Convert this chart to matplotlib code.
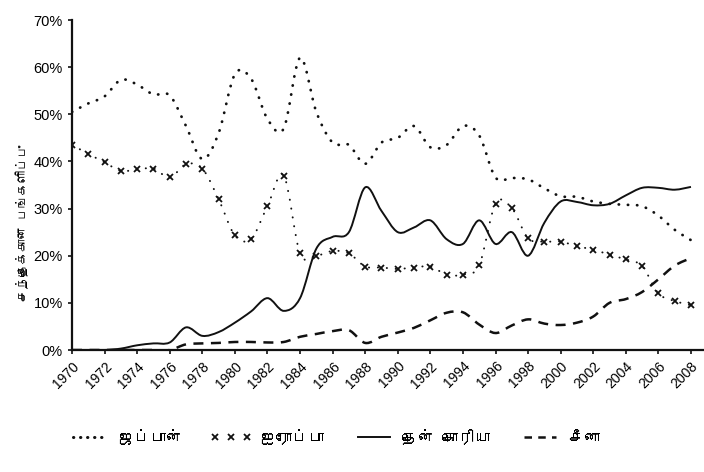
import numpy as np
import matplotlib
matplotlib.use("Agg")
import matplotlib.pyplot as plt
import matplotlib.font_manager as fm
from matplotlib.ft2font import FT2Font
from matplotlib.path import Path
from matplotlib.patches import PathPatch
from matplotlib.lines import Line2D

years = list(range(1970, 2009))

# share of market, percent
japan = [50.5, 52.3, 53.8, 57.3, 56.3, 54.2, 54.0, 47.5, 40.5, 46.0,
         58.5, 57.5, 49.0, 47.0, 62.0, 50.5, 44.0, 43.5, 39.5, 44.0,
         45.0, 47.5, 43.0, 43.5, 47.5, 45.5, 36.6, 36.5, 36.2, 34.3,
         32.6, 32.5, 31.5, 31.0, 30.8, 30.5, 28.5, 25.5, 23.3]
europe = [43.5, 41.6, 39.8, 38.0, 38.3, 38.5, 36.6, 39.4, 38.5, 32.0,
          24.3, 23.6, 30.5, 37.0, 20.5, 20.0, 21.0, 20.5, 17.7, 17.5,
          17.2, 17.5, 17.7, 16.0, 16.0, 18.0, 31.0, 30.1, 23.7, 23.0,
          23.0, 22.0, 21.3, 20.2, 19.2, 17.8, 12.0, 10.4, 9.5]
korea = [0, 0, 0, 0.3, 1.0, 1.4, 1.6, 4.8, 3.0, 3.8,
         5.8, 8.2, 11.0, 8.3, 11.0, 21.5, 24.0, 25.0, 34.5, 29.5,
         25.0, 26.0, 27.5, 23.5, 22.5, 27.5, 22.5, 25.0, 20.0, 27.0,
         31.5, 31.4, 30.7, 31.0, 32.8, 34.4, 34.4, 34.0, 34.6]
china = [0, 0, 0, 0, 0, 0, 0, 1.2, 1.4, 1.5,
         1.7, 1.7, 1.6, 1.7, 2.8, 3.4, 4.0, 4.2, 1.5, 2.8,
         3.7, 4.7, 6.3, 7.9, 8.0, 5.4, 3.6, 5.2, 6.5, 5.6,
         5.3, 5.8, 7.1, 10.0, 10.8, 12.3, 15.0, 17.9, 19.5]

names = ['ஜப்பான்', 'ஐரோப்பா', 'தென் கொரியா', 'சீனா']
ylabel = 'சந்தைக்கான பங்களிப்பு'
yticks = [0, 10, 20, 30, 40, 50, 60, 70]
xticks = list(range(1970, 2009, 2))

# look for an installed font that has Tamil letters
tamil_font = None
for f in fm.fontManager.ttflist:
    try:
        if 0x0BAA in FT2Font(f.fname).get_charmap():
            tamil_font = f.name
            break
    except Exception:
        pass
fams = ['Liberation Sans', 'DejaVu Sans']
if tamil_font:
    fams = [tamil_font] + fams
plt.rcParams['font.family'] = ['Liberation Sans', 'DejaVu Sans']


def smooth_path(xs, ys):
    # smooth curve through the points (like a spreadsheet "smoothed line")
    pts = np.column_stack([xs, ys]).astype(float)
    n = len(pts)
    verts = [pts[0]]
    codes = [Path.MOVETO]
    for i in range(n - 1):
        p0 = pts[max(i - 1, 0)]
        p1 = pts[i]
        p2 = pts[i + 1]
        p3 = pts[min(i + 2, n - 1)]
        verts += [p1 + (p2 - p0) / 6, p2 - (p3 - p1) / 6, p2]
        codes += [Path.CURVE4] * 3
    return Path(verts, codes)


fig = plt.figure(figsize=(7.04, 4.72), dpi=100)
ax = fig.add_axes([72 / 704, 1 - 350 / 472, 1 - 72 / 704, 330 / 472])

jap_style = (0, (0.1, 3.2))
eur_style = (0, (0.1, 4.5))
chn_style = (0, (4, 3))

p = PathPatch(smooth_path(years, japan), fill=False, ec='#111111', lw=2.0, ls=jap_style)
p.set_capstyle('round')
ax.add_patch(p)
p = PathPatch(smooth_path(years, europe), fill=False, ec='#111111', lw=1.4, ls=eur_style)
p.set_capstyle('round')
ax.add_patch(p)
ax.plot(years, europe, ls='none', marker='x', ms=4.5, mew=1.3, color='#111111')
ax.add_patch(PathPatch(smooth_path(years, korea), fill=False, ec='#111111', lw=1.4))
ax.add_patch(PathPatch(smooth_path(years, china), fill=False, ec='#111111', lw=1.8, ls=chn_style))

ax.set_xlim(1970, 2008.8)
ax.set_ylim(0, 70)
ax.set_yticks(yticks)
ax.set_yticklabels(['%d%%' % v for v in yticks], fontsize=10.5)
ax.set_xticks(xticks)
ax.set_xticklabels([str(v) for v in xticks], rotation=45, ha='right',
                   rotation_mode='anchor', fontsize=10)
ax.tick_params(axis='both', direction='out', length=3, width=1.2, color='#111111')
for s in ['top', 'right']:
    ax.spines[s].set_visible(False)
for s in ['left', 'bottom']:
    ax.spines[s].set_linewidth(1.6)
    ax.spines[s].set_color('#111111')

fig.text(22 / 704, 1 - 223 / 472, ylabel, rotation=90, ha='center', va='center',
         fontsize=9, fontweight='bold', family=fams)

handles = [
    Line2D([], [], color='#111111', lw=2.2, ls=(0, (0.1, 2.2)), dash_capstyle='round'),
    Line2D([], [], color='#111111', ls='none', marker='x', ms=5, mew=1.3),
    Line2D([], [], color='#111111', lw=1.4),
    Line2D([], [], color='#111111', lw=1.8, ls=(0, (3, 2.5))),
]
fig.legend(handles, names, loc='center', bbox_to_anchor=(0.475, 1 - 437 / 472), ncol=4,
           frameon=False, numpoints=3, handlelength=2.6, handletextpad=0.5,
           columnspacing=1.8, prop=fm.FontProperties(family=fams, size=11.5, weight='bold'))

fig.savefig('out.png', dpi=100)
